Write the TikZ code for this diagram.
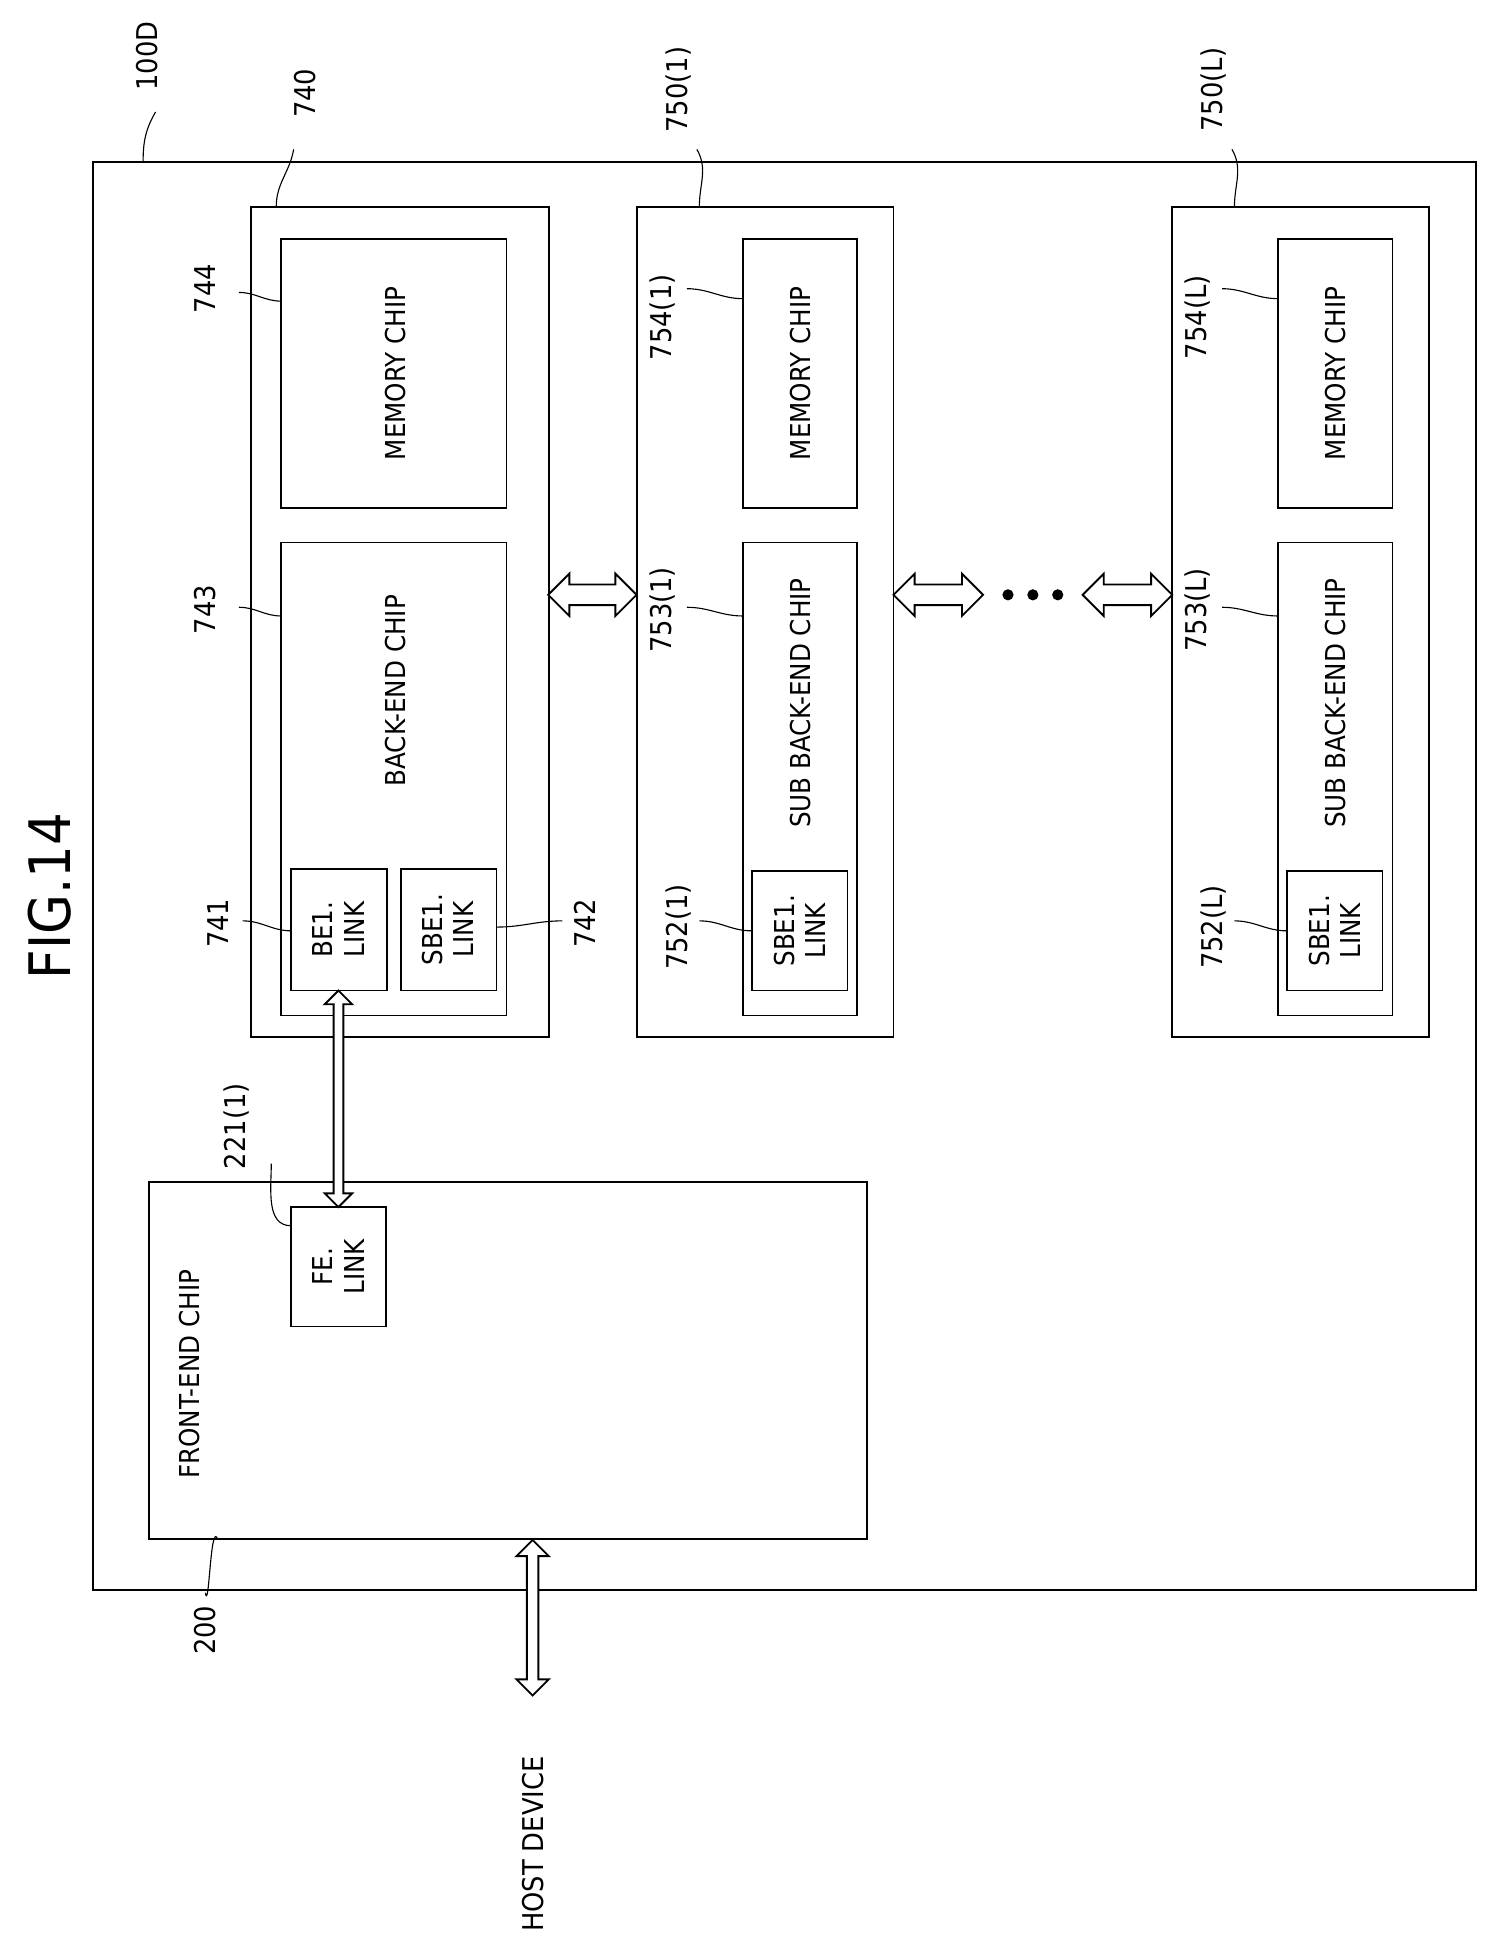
\documentclass[tikz,border=0pt]{standalone}
\usepackage{fontspec}
\setmainfont{DejaVu Sans Condensed}
\usetikzlibrary{shapes.arrows,calc}
\begin{document}
\begin{tikzpicture}[x=1pt,y=-1pt,
  box/.style={draw,line width=1.5pt},
  lbl/.style={rotate=90,font=\fontsize{23}{25}\selectfont},
  txt/.style={rotate=90,font=\fontsize{22}{25}\selectfont,align=center},
  lead/.style={line width=0.9pt},
  darr/.style={double arrow,draw,line width=1.5pt,fill=white,minimum width=22pt,double arrow head extend=5pt,inner sep=2pt},
  harr/.style={darr,minimum width=34pt,double arrow head extend=6pt,inner sep=5pt}]
\useasboundingbox (0,0) rectangle (1200,1563);
\node[rotate=90,font=\fontsize{46}{50}\selectfont] (fig) at (40,720) {FIG.14};
\draw[box] (75,130) rectangle (1186,1278);
\node[lbl] (l100) at (118,45) {100D};
\draw[lead] (125,90) to[out=-120,in=90] (115,130);
% 740
\draw[box] (202,166) rectangle (441,833);
\draw[box] (226,192) rectangle (407,408);
\node[txt] (m744) at (318,300) {MEMORY CHIP};
\draw[box] (226,436) rectangle (407,816);
\node[txt] (b743) at (318,555) {BACK-END CHIP};
\draw[box] (234,698) rectangle (311,796);
\node[txt] (l741) at (272,747) {BE1.\\LINK};
\draw[box] (322,698) rectangle (399,796);
\node[txt] (l742) at (360,747) {SBE1.\\LINK};
% 750(1) and 750(L)
\foreach \dx/\s in {0/1,430/L}{
  \begin{scope}[xshift=\dx]
  \draw[box] (512,166) rectangle (718,833);
  \draw[box] (597,192) rectangle (689,408);
  \node[txt] at (643,300) {MEMORY CHIP};
  \draw[box] (597,436) rectangle (689,816);
  \node[txt] at (643,565) {SUB BACK-END CHIP};
  \draw[box] (604,700) rectangle (681,796);
  \node[txt] at (643,748) {SBE1.\\LINK};
  \node[lbl] at (545,72) {750(\s)};
  \draw[lead] (560,120) to[out=-60,in=90] (562,166);
  \node[lbl] at (532,255) {754(\s)};
  \draw[lead] (552,232) to[out=0,in=180] (597,240);
  \node[lbl] at (532,490) {753(\s)};
  \draw[lead] (552,488) to[out=0,in=180] (597,495);
  \node[lbl] at (545,745) {752(\s)};
  \draw[lead] (562,740) to[out=0,in=180] (604,748);
  \end{scope}}
% left labels
\node[lbl] (l740) at (245,75) {740};
\draw[lead] (236,120) to[out=-100,in=90] (222,166);
\node[lbl] (l744) at (165,232) {744};
\draw[lead] (192,235) to[out=0,in=180] (226,242);
\node[lbl] (l743) at (165,490) {743};
\draw[lead] (192,488) to[out=0,in=180] (226,495);
\node[lbl] (n741) at (175,742) {741};
\draw[lead] (195,740) to[out=0,in=180] (234,748);
\node[lbl] (n742) at (470,742) {742};
\draw[lead] (399,745) to[out=0,in=180] (452,740);
% front end
\draw[box] (120,950) rectangle (697,1237);
\node[txt,anchor=west] (fe) at (152,1192) {FRONT-END CHIP};
\draw[box] (234,970) rectangle (310,1066);
\node[txt] (fel) at (272,1018) {FE.\\LINK};
\node[lbl] (l221) at (190,905) {221(1)};
\draw[lead] (218,935) to[out=-90,in=180] (234,985);
\node[lbl] (l200) at (165,1310) {200};
\draw[lead] (165,1280) to[out=-80,in=110] (175,1237);
% arrows
\node[darr,minimum height=174pt,rotate=90] at (272,883) {};
\node[harr,minimum height=71pt] at (476,478) {};
\node[harr,minimum height=72pt] at (754,478) {};
\node[harr,minimum height=72pt] at (906,478) {};
\foreach \x in {810,830,850}{\fill (\x,478) circle (4.5pt);}
\node[darr,minimum height=125pt,minimum width=26pt,rotate=90] at (428,1300) {};
\node[lbl] (host) at (428,1482) {HOST DEVICE};
\end{tikzpicture}
\end{document}
